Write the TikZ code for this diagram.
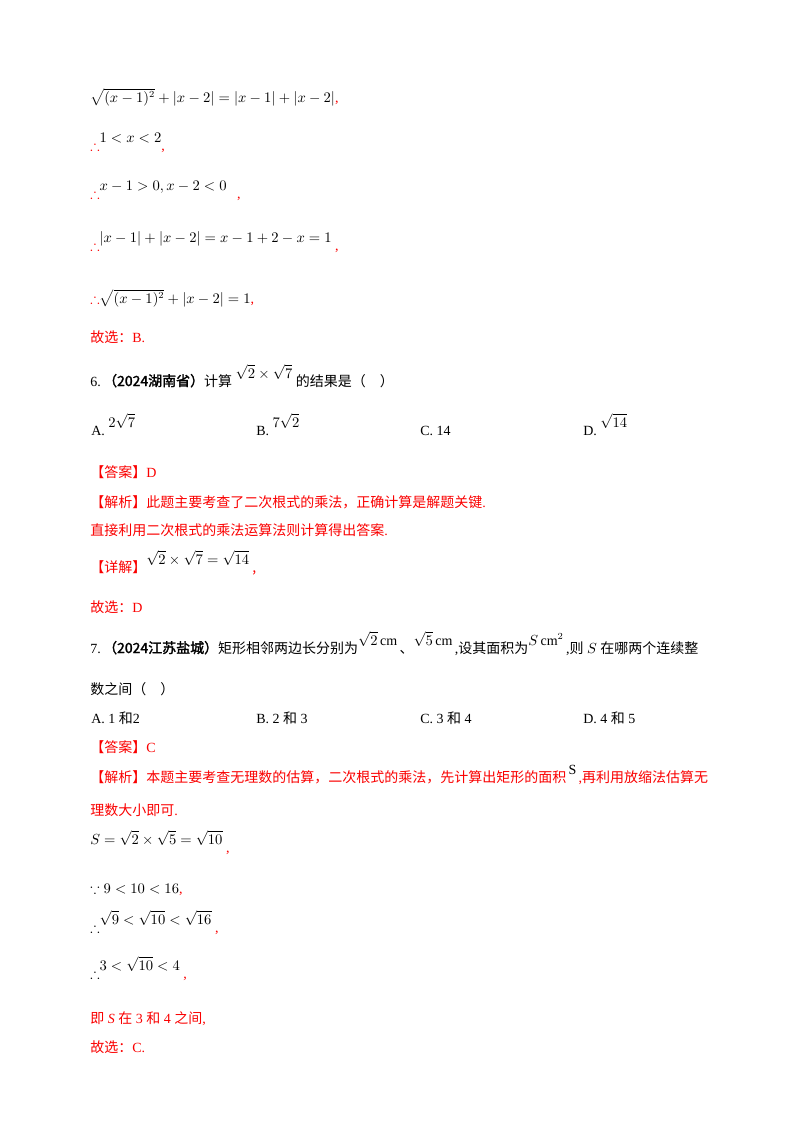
\documentclass[tikz,border=0pt]{standalone}
\usepackage{amsmath,amssymb}
\usepackage{fontspec}
\setmainfont{Liberation Serif}
\newfontfamily\cjk{Noto Sans CJK SC}
\newfontfamily\cjkb[FakeBold=2]{Noto Sans CJK SC}
\definecolor{rd}{RGB}{250,0,0}
\newcommand{\up}[1]{\raisebox{6pt}{#1}}
\begin{document}
\begin{tikzpicture}[x=0.75pt,y=-0.75pt,
  t/.style={anchor=base west,inner sep=0pt,font=\fontsize{10.5}{12}\selectfont},
  r/.style={t,text=rd}]
\useasboundingbox (0,0) rectangle (800,1132);
\node[t] (l1) at (90,102) {$\sqrt{(x-1)^2}+|x-2|=|x-1|+|x-2|$\textcolor{rd}{,}};
\node[t] (l2) at (90,150) {\textcolor{rd}{$\therefore$}\up{$1<x<2$}\textcolor{rd}{,}};
\node[t] (l3) at (90,198) {\textcolor{rd}{$\therefore$}\up{$x-1>0,x-2<0$}\ \ \ \textcolor{rd}{,}};
\node[t] (l4) at (90,250) {\textcolor{rd}{$\therefore$}\up{$|x-1|+|x-2|=x-1+2-x=1$}\ \textcolor{rd}{,}};
\node[t] (l5) at (90,303) {\textcolor{rd}{$\therefore$}$\sqrt{(x-1)^2}+|x-2|=1$\textcolor{rd}{,}};
\node[r] (l6) at (90,342) {\cjk 故选：\rmfamily B.};
\node[t] (q6) at (90,386) {6.\,{\cjkb（2024湖南省）}{\cjk 计算} \up{$\sqrt2\times\sqrt7$} {\cjk 的结果是（\quad）}};
\node[t] (a6) at (91,435) {A. \up{$2\sqrt7$}};
\node[t] (b6) at (256,435) {B. \up{$7\sqrt2$}};
\node[t] (c6) at (420,435) {C. 14};
\node[t] (d6) at (583,435) {D. \up{$\sqrt{14}$}};
\node[r] (ans6) at (90,477) {\cjk 【答案】\rmfamily D};
\node[r] (jx6) at (90,507) {\cjk 【解析】此题主要考查了二次根式的乘法，正确计算是解题关键\rmfamily.};
\node[r] (zj6) at (90,535) {\cjk 直接利用二次根式的乘法运算法则计算得出答案\rmfamily.};
\node[r] (xj6) at (90,572) {\cjk 【详解】\color{black}\up{$\sqrt2\times\sqrt7=\sqrt{14}$}\ \textcolor{rd}{,}};
\node[r] (gx6) at (90,612) {\cjk 故选：\rmfamily D};
\node[t] (q7) at (90,653) {7.\,{\cjkb（2024江苏盐城）}{\cjk 矩形相邻两边长分别为}\up{$\sqrt2\,$cm}\,{\cjk 、}\up{$\sqrt5\,$cm}\,,{\cjk 设其面积为}\up{$S\,$cm$^2$}\,,{\cjk 则} $S$ {\cjk 在哪两个连续整}};
\node[t] (q7b) at (90,694) {\cjk 数之间（\quad）};
\node[t] (a7) at (91,723) {A. 1 {\cjk 和}2};
\node[t] (b7) at (256,723) {B. 2 {\cjk 和} 3};
\node[t] (c7) at (420,723) {C. 3 {\cjk 和} 4};
\node[t] (d7) at (583,723) {D. 4 {\cjk 和} 5};
\node[r] (ans7) at (90,752) {\cjk 【答案】\rmfamily C};
\node[r] (jx7) at (90,782) {\cjk 【解析】本题主要考查无理数的估算，二次根式的乘法，先计算出矩形的面积\rmfamily\,\color{black}\up{S}\color{rd}\,,\cjk 再利用放缩法估算无};
\node[r] (jx7b) at (90,815) {\cjk 理数大小即可\rmfamily.};
\node[t] (m1) at (90,852) {\up{$S=\sqrt2\times\sqrt5=\sqrt{10}$}\ \textcolor{rd}{,}};
\node[t] (m2) at (90,893) {$\because 9<10<16$\textcolor{rd}{,}};
\node[t] (m3) at (90,932) {$\therefore$\up{$\sqrt9<\sqrt{10}<\sqrt{16}$}\ \textcolor{rd}{,}};
\node[t] (m4) at (90,978) {$\therefore$\up{$3<\sqrt{10}<4$}\ \textcolor{rd}{,}};
\node[r] (m5) at (90,1023) {\cjk 即\rmfamily\ \textit{S}\ \cjk 在\rmfamily\ 3 \cjk 和\rmfamily\ 4 \cjk 之间\rmfamily,};
\node[r] (m6) at (90,1052) {\cjk 故选：\rmfamily C.};
\end{tikzpicture}
\end{document}
